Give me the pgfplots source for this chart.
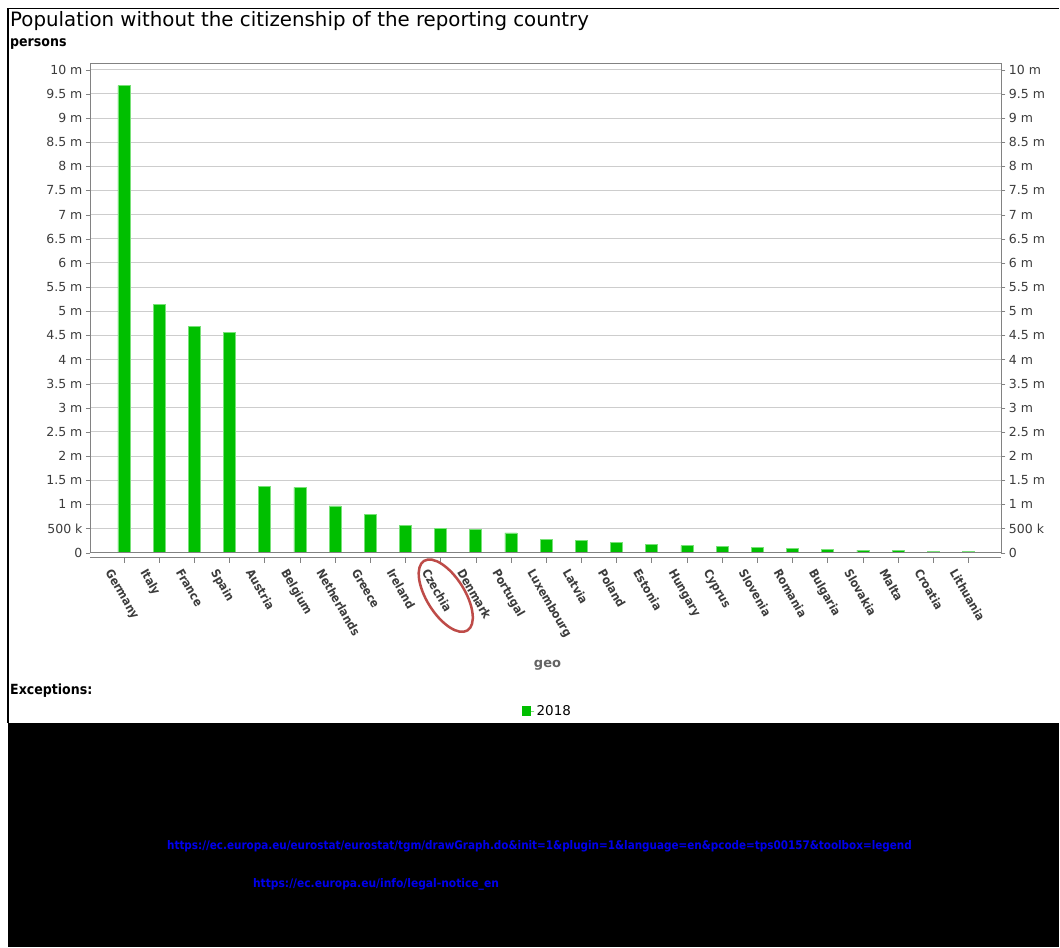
\documentclass[border=0pt]{standalone}
\usepackage{pgfplots}
\pgfplotsset{compat=1.18}
\usepackage{pgfplotstable}
\usepackage{fontspec}
\setmainfont{DejaVu Sans}
\newfontfamily\condf{DejaVu Sans Condensed}
\definecolor{bargreen}{RGB}{0,191,0}
\definecolor{baredge}{RGB}{120,225,120}
\definecolor{gridgray}{RGB}{205,205,205}
\definecolor{tickgray}{RGB}{60,60,60}
\definecolor{axgray}{RGB}{130,130,130}
\definecolor{ellred}{RGB}{190,75,72}
\definecolor{urlblue}{RGB}{0,0,235}
\pgfplotstableread{
x val
0 9.67
1 5.14
2 4.68
3 4.56
4 1.37
5 1.35
6 0.97
7 0.80
8 0.565
9 0.50
10 0.49
11 0.41
12 0.28
13 0.255
14 0.22
15 0.18
16 0.145
17 0.13
18 0.105
19 0.097
20 0.07
21 0.055
22 0.048
23 0.035
24 0.02
}\datatable
\begin{document}
\begin{tikzpicture}[x=1pt,y=1pt]
\fill[white] (0,0) rectangle (1060,-948);
\fill[black] (8,-723) rectangle (1060,-948);
\draw[black, line width=1.2pt] (8,-723) -- (8,-8.5) -- (1060,-8.5);
\node[anchor=base west, inner sep=0pt, font=\fontsize{19.8}{22}\selectfont] at (10,-27) {Population without the citizenship of the reporting country};
\node[anchor=base west, inner sep=0pt, font=\condf\bfseries\fontsize{14}{16}\selectfont] at (10,-47) {persons};
\node[anchor=base west, inner sep=0pt, font=\condf\bfseries\fontsize{14}{16}\selectfont] at (10,-695) {Exceptions:};

\begin{axis}[
  at={(90pt,-553pt)}, anchor=south west,
  scale only axis, width=912pt, height=490pt,
  xmin=-0.966, xmax=24.94, ymin=0, ymax=10.14,
  axis line style={axgray},
  ybar, bar width=12pt, bar shift=0pt,
  ymajorgrids, grid style={gridgray, line width=1pt},
  ytick={0,0.5,...,10},
  yticklabels={0,500 k,1 m,1.5 m,2 m,2.5 m,3 m,3.5 m,4 m,4.5 m,5 m,5.5 m,6 m,6.5 m,7 m,7.5 m,8 m,8.5 m,9 m,9.5 m,10 m},
  yticklabel style={font=\fontsize{12.5}{14}\selectfont, text=tickgray},
  ytick align=outside, ytick pos=left, major tick length=4pt,
  y tick style={axgray},
  xtick={0,...,24},
  xticklabels={Germany,Italy,France,Spain,Austria,Belgium,Netherlands,Greece,Ireland,Czechia,Denmark,Portugal,Luxembourg,Latvia,Poland,Estonia,Hungary,Cyprus,Slovenia,Romania,Bulgaria,Slovakia,Malta,Croatia,Lithuania},
  xticklabel style={rotate=-60, anchor=north west, inner sep=0pt, yshift=-15pt, xshift=4pt, font=\condf\bfseries\fontsize{12}{14}\selectfont, text=tickgray},
  x tick style={draw=none},
  xlabel={geo},
  xlabel style={at={(axis description cs:0.502,-0.229)}, anchor=center, font=\bfseries\fontsize{13}{15}\selectfont, text=tickgray!80},
  legend style={at={(axis description cs:0.502,-0.324)}, anchor=center, draw=none, fill=none, font=\fontsize{13.5}{15}\selectfont, inner sep=0pt},
  legend image code/.code={\path (-6pt,0pt) -- (6pt,0pt); \fill[bargreen] (-6pt,-4pt) rectangle (2pt,5pt);},
]
\addplot[fill=bargreen, draw=baredge, line width=0.6pt] table[x=x, y=val] {\datatable};
\addlegendentry{2018}
\draw[black!70, line width=1pt] (axis cs:-0.966,0) -- (axis cs:24.94,0);
\end{axis}

\begin{axis}[
  at={(90pt,-553pt)}, anchor=south west,
  scale only axis, width=912pt, height=490pt,
  xmin=-0.966, xmax=24.94, ymin=0, ymax=10.14,
  axis line style={axgray},
  ytick={0,0.5,...,10},
  yticklabels={0,500 k,1 m,1.5 m,2 m,2.5 m,3 m,3.5 m,4 m,4.5 m,5 m,5.5 m,6 m,6.5 m,7 m,7.5 m,8 m,8.5 m,9 m,9.5 m,10 m},
  yticklabel style={font=\fontsize{12.5}{14}\selectfont, text=tickgray},
  ytick align=outside, ytick pos=right, yticklabel pos=right, major tick length=4pt,
  y tick style={axgray},
  xtick=\empty,
]
\end{axis}

% offset category axis line with ticks
\draw[axgray, line width=1pt] (90,-558) -- (1002,-558);
\foreach \i in {0,...,24} {\draw[axgray] (124+35.2*\i,-558) -- (124+35.2*\i,-563);}

% annotation ellipse
\draw[ellred, line width=2.5pt] (446,-596) ellipse [x radius=41, y radius=19, rotate=-58];

% URLs
\node[anchor=base west, inner sep=0pt, text=urlblue] at (167,-850) {\resizebox{745pt}{9pt}{\condf\bfseries https://ec.europa.eu/eurostat/eurostat/tgm/drawGraph.do\&init=1\&plugin=1\&language=en\&pcode=tps00157\&toolbox=legend}};
\node[anchor=base west, inner sep=0pt, text=urlblue] at (253,-888) {\resizebox{246pt}{9pt}{\condf\bfseries https://ec.europa.eu/info/legal-notice\_en}};
\end{tikzpicture}
\end{document}
